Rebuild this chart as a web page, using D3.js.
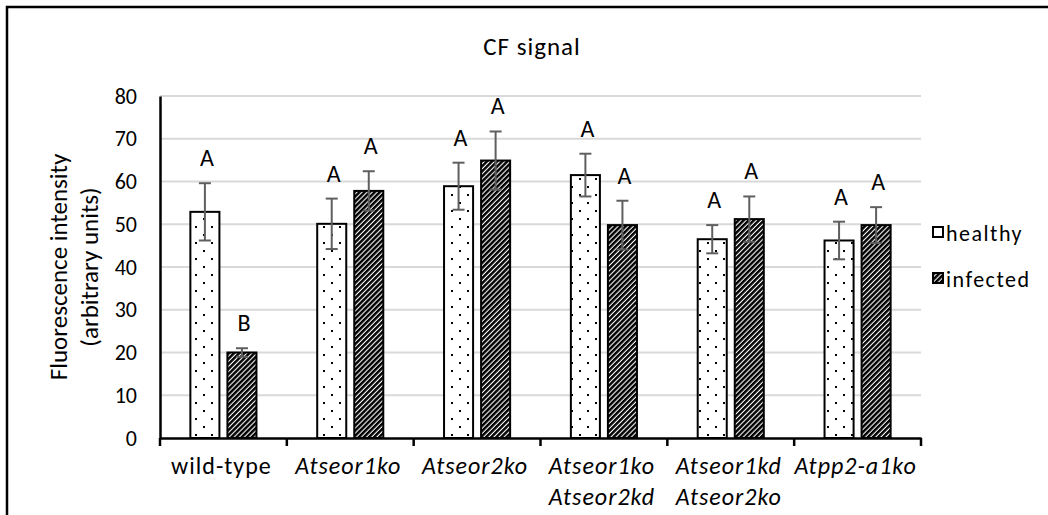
<!DOCTYPE html>
<html>
<head>
<meta charset="utf-8">
<script src="https://cdn.jsdelivr.net/npm/d3@7"></script>
<style>
  body { margin: 0; background: #fff; }
  text { font-family: Carlito, Calibri, Lato, sans-serif; fill: #000; }
</style>
</head>
<body>
<div class="chart"></div>
<script>
var svgWidth = 1048;
var svgHeight = 515;

// data
var categories = ["wild-type", "Atseor1ko", "Atseor2ko", "Atseor1ko\nAtseor2kd", "Atseor1kd\nAtseor2ko", "Atpp2-a1ko"];
var series = ["healthy", "infected"];
var healthy = [52.9, 50.1, 58.9, 61.5, 46.5, 46.2];
var healthyErr = [6.7, 5.9, 5.5, 5.0, 3.3, 4.4];
var infected = [20.0, 57.8, 64.9, 49.8, 51.2, 49.8];
var infectedErr = [1.0, 4.6, 6.8, 5.7, 5.3, 4.2];
var healthyLetters = ["A", "A", "A", "A", "A", "A"];
var infectedLetters = ["B", "A", "A", "A", "A", "A"];
var yTicks = [0, 10, 20, 30, 40, 50, 60, 70, 80];

var plot = { left: 160, right: 921, top: 96, bottom: 438 };

var svg = d3.select(".chart")
  .append("svg")
  .attr("width", svgWidth)
  .attr("height", svgHeight);

// patterns
var defs = svg.append("defs");

var dots = defs.append("pattern")
  .attr("id", "dots")
  .attr("patternUnits", "userSpaceOnUse")
  .attr("width", 16)
  .attr("height", 16);
dots.append("rect").attr("width", 16).attr("height", 16).attr("fill", "#fff");
dots.append("rect").attr("x", 3).attr("y", 2).attr("width", 2).attr("height", 2).attr("fill", "#000");
dots.append("rect").attr("x", 11).attr("y", 10).attr("width", 2).attr("height", 2).attr("fill", "#000");

var stripes = defs.append("pattern")
  .attr("id", "stripes")
  .attr("patternUnits", "userSpaceOnUse")
  .attr("width", 3.6)
  .attr("height", 3.6)
  .attr("patternTransform", "rotate(45)");
stripes.append("rect").attr("width", 3.6).attr("height", 3.6).attr("fill", "#fff");
stripes.append("rect").attr("width", 2.5).attr("height", 3.6).attr("fill", "#000");

// outer frame
svg.append("rect")
  .attr("x", 7).attr("y", 7)
  .attr("width", 1200).attr("height", 800)
  .attr("fill", "none")
  .attr("stroke", "#000")
  .attr("stroke-width", 2.5);

// scales
var x0 = d3.scaleBand()
  .domain(categories)
  .range([plot.left, plot.right])
  .padding(0);

var x1 = d3.scaleBand()
  .domain(series)
  .range([0, x0.bandwidth()])
  .paddingInner(0.216)
  .paddingOuter(0.82);

var y = d3.scaleLinear()
  .domain([0, 80])
  .range([plot.bottom, plot.top]);

// gridlines
svg.append("g")
  .selectAll("line")
  .data(yTicks.slice(1))
  .enter()
  .append("line")
  .attr("x1", plot.left)
  .attr("x2", plot.right)
  .attr("y1", d => y(d))
  .attr("y2", d => y(d))
  .attr("stroke", "#d9d9d9")
  .attr("stroke-width", 2);

// y axis
var leftAxis = d3.axisLeft(y).tickValues(yTicks).tickSize(0).tickPadding(23);
var yAxis = svg.append("g")
  .attr("transform", `translate(${plot.left}, 0)`)
  .call(leftAxis);
yAxis.select(".domain").attr("stroke", "#000").attr("stroke-width", 2.5);
yAxis.selectAll("text")
  .attr("font-size", "22px")
  .attr("font-family", "Carlito, Calibri, Lato, sans-serif")
  .attr("fill", "#000");

// bars
var rows = categories.map(function(c, i) {
  return [
    { cat: c, key: "healthy", value: healthy[i], err: healthyErr[i], letter: healthyLetters[i] },
    { cat: c, key: "infected", value: infected[i], err: infectedErr[i], letter: infectedLetters[i] }
  ];
});
var flat = rows.flat();

var barGroup = svg.append("g");
barGroup.selectAll("rect")
  .data(flat)
  .enter()
  .append("rect")
  .attr("x", d => x0(d.cat) + x1(d.key))
  .attr("y", d => y(d.value))
  .attr("width", x1.bandwidth())
  .attr("height", d => y(0) - y(d.value))
  .attr("fill", d => d.key === "healthy" ? "url(#dots)" : "url(#stripes)")
  .attr("stroke", "#000")
  .attr("stroke-width", 2);

// error bars
var errGroup = svg.append("g")
  .attr("stroke", "#5f5f5f")
  .attr("stroke-width", 2);
var cx = d => x0(d.cat) + x1(d.key) + x1.bandwidth() / 2;
errGroup.selectAll(".stem")
  .data(flat)
  .enter()
  .append("line")
  .attr("x1", cx).attr("x2", cx)
  .attr("y1", d => y(d.value + d.err))
  .attr("y2", d => y(d.value - d.err));
errGroup.selectAll(".capTop")
  .data(flat)
  .enter()
  .append("line")
  .attr("x1", d => cx(d) - 6).attr("x2", d => cx(d) + 6)
  .attr("y1", d => y(d.value + d.err))
  .attr("y2", d => y(d.value + d.err));
errGroup.selectAll(".capBottom")
  .data(flat)
  .enter()
  .append("line")
  .attr("x1", d => cx(d) - 6).attr("x2", d => cx(d) + 6)
  .attr("y1", d => y(d.value - d.err))
  .attr("y2", d => y(d.value - d.err));

// significance letters
svg.append("g")
  .selectAll("text")
  .data(flat)
  .enter()
  .append("text")
  .attr("x", d => cx(d) + 2)
  .attr("y", d => y(d.value + d.err) - 17)
  .attr("text-anchor", "middle")
  .attr("font-size", "24px")
  .text(d => d.letter);

// x axis
var bottomAxis = d3.axisBottom(x0).tickValues([]).tickSizeOuter(0);
var xAxis = svg.append("g")
  .attr("transform", `translate(0, ${plot.bottom})`)
  .call(bottomAxis);
xAxis.select(".domain").attr("stroke", "#000").attr("stroke-width", 2.5);
xAxis.selectAll(".bound")
  .data(d3.range(categories.length + 1))
  .enter()
  .append("line")
  .attr("x1", i => plot.left + i * x0.step())
  .attr("x2", i => plot.left + i * x0.step())
  .attr("y1", 0)
  .attr("y2", 8)
  .attr("stroke", "#000")
  .attr("stroke-width", 2.5);

// category labels
var catLabels = svg.append("g")
  .selectAll("text")
  .data(categories)
  .enter()
  .append("text")
  .attr("text-anchor", "middle")
  .attr("font-size", "24px")
  .attr("letter-spacing", "1px")
  .attr("font-style", d => d === "wild-type" ? "normal" : "italic");
catLabels.each(function(d) {
  var t = d3.select(this);
  d.split("\n").forEach(function(line, i) {
    t.append("tspan")
      .attr("x", x0(d) + x0.bandwidth() / 2 - 2)
      .attr("y", 474 + i * 31)
      .text(line);
  });
});

// y axis title
var yTitle = svg.append("text")
  .attr("transform", "translate(67, 267) rotate(-90)")
  .attr("text-anchor", "middle")
  .attr("font-size", "25px");
yTitle.append("tspan").attr("x", 0).attr("y", 0).text("Fluorescence intensity");
yTitle.append("tspan").attr("x", 0).attr("y", 31).text("(arbitrary units)");

// title
svg.append("text")
  .attr("x", 532)
  .attr("y", 55)
  .attr("text-anchor", "middle")
  .attr("font-size", "25px")
  .attr("letter-spacing", "1px")
  .text("CF signal");

// legend
var legend = svg.append("g")
  .selectAll("g")
  .data(series)
  .enter()
  .append("g")
  .attr("transform", (d, i) => `translate(933, ${227 + i * 46})`);
legend.append("rect")
  .attr("width", 10)
  .attr("height", 10)
  .attr("fill", d => d === "healthy" ? "#fff" : "url(#stripes)")
  .attr("stroke", "#000")
  .attr("stroke-width", 2);
legend.append("text")
  .attr("x", 13)
  .attr("y", 14)
  .attr("font-size", "22px")
  .attr("letter-spacing", "1.5px")
  .text(d => d);
</script>
</body>
</html>
